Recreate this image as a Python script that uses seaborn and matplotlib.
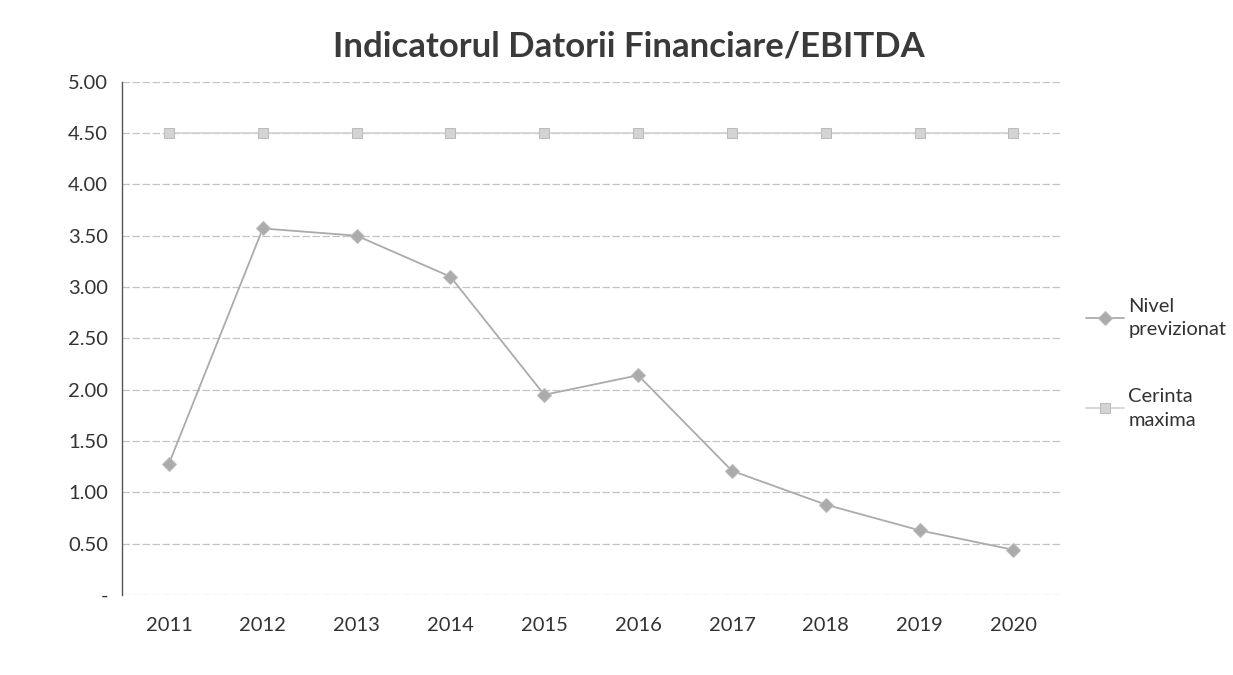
import numpy as np
import pandas as pd
import matplotlib
matplotlib.use("Agg")
import matplotlib.pyplot as plt
import seaborn as sns
from matplotlib.ticker import FuncFormatter

years = ["2011", "2012", "2013", "2014", "2015", "2016", "2017", "2018", "2019", "2020"]
nivel_previzionat = [1.28, 3.57, 3.50, 3.10, 1.95, 2.14, 1.21, 0.88, 0.63, 0.44]
cerinta_maxima = [4.50, 4.50, 4.50, 4.50, 4.50, 4.50, 4.50, 4.50, 4.50, 4.50]
series_names = ["Nivel\nprevizionat", "Cerinta\nmaxima"]

df = pd.DataFrame({
    "an": years * 2,
    "valoare": nivel_previzionat + cerinta_maxima,
    "serie": [series_names[0]] * len(years) + [series_names[1]] * len(years),
})

sns.set_style("white")
plt.rcParams["font.family"] = ["Lato", "DejaVu Sans"]

fig = plt.figure(figsize=(12.33, 6.75), dpi=100)
ax = fig.add_axes([0.099, 0.1185, 0.761, 0.7605])

palette = {series_names[0]: "#ababab", series_names[1]: "#d4d4d4"}
markers = {series_names[0]: "D", series_names[1]: "s"}

sns.lineplot(
    data=df, x="an", y="valoare", hue="serie", style="serie",
    palette=palette, markers=markers, dashes=False,
    markersize=7.5, linewidth=1.3, ax=ax, sort=False,
    markeredgecolor="#bcbcbc", legend=True,
)

ax.set_xlim(-0.5, 9.5)
ax.set_ylim(0, 5)
ax.set_yticks(np.arange(0, 5.01, 0.5))
ax.yaxis.set_major_formatter(FuncFormatter(lambda v, p: "-" if v == 0 else f"{v:.2f}"))
ax.grid(axis="y", color="#c4c4c4", linestyle=(0, (6, 2)), linewidth=0.9)
ax.set_axisbelow(True)

for side in ["top", "right", "bottom"]:
    ax.spines[side].set_visible(False)
ax.spines["left"].set_color("#555555")
ax.spines["left"].set_linewidth(1.0)

ax.tick_params(axis="both", length=0, labelsize=14.5, labelcolor="#333333")
ax.tick_params(axis="y", pad=10)
ax.tick_params(axis="x", pad=16)
ax.set_xlabel("")
ax.set_ylabel("")

# the title sits a bit right of the plot area centre in the original
ax.set_title("Indicatorul Datorii Financiare/EBITDA", fontsize=25, fontweight="bold",
             color="#3a3a3a", x=0.54, pad=18)

handles, labels = ax.get_legend_handles_labels()
ax.legend_.remove()
leg = fig.legend(handles, labels, loc="center left", bbox_to_anchor=(0.866, 0.462),
                 frameon=False, fontsize=14.5, labelcolor="#333333",
                 handlelength=1.9, handletextpad=0.2, labelspacing=2.5)
for txt in leg.get_texts():
    txt.set_linespacing(1.45)

fig.savefig("out.png", dpi=100)
